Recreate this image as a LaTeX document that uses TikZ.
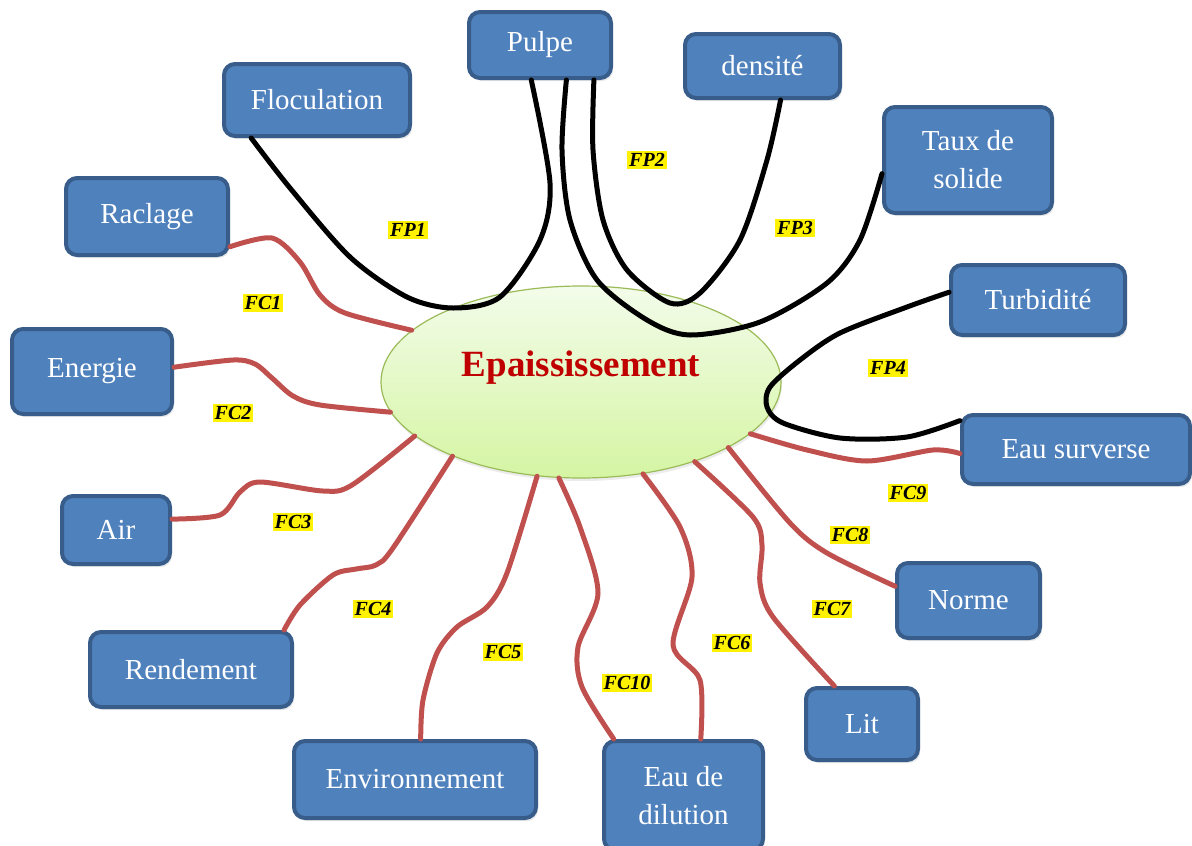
\documentclass[tikz,border=0pt]{standalone}
\usepackage{fontspec}
\setmainfont{Liberation Serif}
\usetikzlibrary{shapes.geometric,shadows}
\definecolor{boxfill}{HTML}{4F81BD}
\definecolor{boxedge}{HTML}{385D8A}
\definecolor{fcred}{HTML}{C0504D}
\definecolor{titlered}{HTML}{C00000}
\definecolor{ellfilltop}{HTML}{F3FCEA}
\definecolor{ellfillbot}{HTML}{D5F5A3}
\definecolor{elledge}{HTML}{9BBB59}
\begin{document}
\begin{tikzpicture}[x=1pt,y=-1pt,
  critbox/.style={draw=boxedge, line width=4pt, fill=boxfill, rounded corners=11pt,
    text=white, font=\fontsize{29}{38}\selectfont, align=center, inner sep=0pt,
    drop shadow={opacity=0.18, shadow xshift=2pt, shadow yshift=-3pt}},
  fnlabel/.style={fill=yellow, text=black, inner sep=2pt,
    font=\fontsize{20}{22}\selectfont\bfseries\itshape},
  fcline/.style={draw=fcred, line width=5pt, line cap=round},
  fpline/.style={draw=black, line width=5pt, line cap=round}]
\useasboundingbox (0,0) rectangle (1192,846);

% central function
\node (ell) [ellipse, draw=elledge, line width=1.2pt, top color=ellfilltop, bottom color=ellfillbot,
  minimum width=400pt, minimum height=192pt, inner sep=0pt,
  drop shadow={opacity=0.15, shadow xshift=1pt, shadow yshift=-3pt}] at (581,382) {};
\node (title) [text=titlered, font=\fontsize{37}{40}\selectfont\bfseries] at (581,368) {Epaississement};

% surrounding elements
\node (flocu) [critbox, minimum width=186pt, minimum height=72pt] at (317,100) {Floculation};
\node (pulpe) [critbox, minimum width=142pt, minimum height=66pt] at (540,45) {Pulpe};
\node (densite) [critbox, minimum width=155pt, minimum height=64pt] at (762.5,66) {densité};
\node (taux) [critbox, minimum width=168pt, minimum height=106pt] at (968,160) {Taux de\\solide};
\node (turbi) [critbox, minimum width=174pt, minimum height=70pt] at (1038,300) {Turbidité};
\node (surverse) [critbox, minimum width=228pt, minimum height=69pt] at (1076,449.5) {Eau surverse};
\node (norme) [critbox, minimum width=143pt, minimum height=75pt] at (968.5,600.5) {Norme};
\node (lit) [critbox, minimum width=112pt, minimum height=72pt] at (862,724) {Lit};
\node (dilution) [critbox, minimum width=159pt, minimum height=109pt] at (683.5,795.5) {Eau de\\dilution};
\node (environ) [critbox, minimum width=242pt, minimum height=77pt] at (415,779.5) {Environnement};
\node (rendement) [critbox, minimum width=202pt, minimum height=75pt] at (191,669.5) {Rendement};
\node (air) [critbox, minimum width=108pt, minimum height=68pt] at (116,530) {Air};
\node (energie) [critbox, minimum width=160pt, minimum height=85pt] at (92,371.5) {Energie};
\node (raclage) [critbox, minimum width=162pt, minimum height=77pt] at (147,216.5) {Raclage};

% constraint functions (red)
\draw[fcline] plot[smooth] coordinates {(raclage.-20) (272,238) (300,262) (320,295) (345,313) (ell.163)};
\draw[fcline] plot[smooth] coordinates {(energie.3) (233,360) (255,364) (272,378) (293,396) (320,405) (ell.189.5)};
\draw[fcline] plot[smooth] coordinates {(air.11.5) (220,515) (240,492) (260,482) (323,491) (352,485) (ell.198.4)};
\draw[fcline] plot[smooth] coordinates {(rendement.23) (300,605) (333,575) (356,569) (376,565) (393,548) (ell.210.8)};
\draw[fcline] plot[smooth] coordinates {(environ.82.8) (423,700) (437,653) (457,627) (487,607) (507,573) (ell.245.4)};
\draw[fcline] plot[smooth] coordinates {(ell.257.8) (580,527) (598,593) (578,647) (582,687) (dilution.141.2)};
\draw[fcline] plot[smooth] coordinates {(ell.304.5) (680,527) (692,577) (673,645) (700,680) (dilution.73.5)};
\draw[fcline] plot[smooth] coordinates {(ell.325) (753,517) (762,545) (760,583) (773,617) (lit.126.9)};
\draw[fcline] plot[smooth] coordinates {(ell.336.9) (790,523) (827,553) (norme.169.2)};
\draw[fcline] plot[smooth] coordinates {(ell.343.2) (807,450) (867,461) (933,450) (surverse.182.3)};

% principal functions (black)
\draw[fpline] plot[smooth] coordinates {(flocu.210) (290,188) (350,257) (407,297) (453,308) (500,297) (540,240) (550,183) (pulpe.256.9)};
\draw[fpline] plot[smooth] coordinates {(pulpe.327) (593,150) (603,220) (627,270) (670,303) (700,293) (740,240) (767,160) (densite.298.7)};
\draw[fpline] plot[smooth] coordinates {(pulpe.307.1) (562,150) (570,220) (597,280) (647,320) (690,335) (760,322) (827,283) (860,240) (taux.189)};
\draw[fpline] plot[smooth] coordinates {(turbi.175.5) (907,307) (840,333) (800,360) (770,387) (767,407) (783,423) (840,438) (907,437) (surverse.166.3)};

% function labels
\node (fp1) [fnlabel] at (408,230) {FP1};
\node (fp2) [fnlabel] at (647,160) {FP2};
\node (fp3) [fnlabel] at (795,228) {FP3};
\node (fp4) [fnlabel] at (888,368) {FP4};
\node (fc1) [fnlabel] at (263,303) {FC1};
\node (fc2) [fnlabel] at (233,413) {FC2};
\node (fc3) [fnlabel] at (293,522) {FC3};
\node (fc4) [fnlabel] at (373,609) {FC4};
\node (fc5) [fnlabel] at (503,652) {FC5};
\node (fc10) [fnlabel] at (627,683) {FC10};
\node (fc6) [fnlabel] at (732,643) {FC6};
\node (fc7) [fnlabel] at (832,609) {FC7};
\node (fc8) [fnlabel] at (850,535) {FC8};
\node (fc9) [fnlabel] at (908,493) {FC9};
\end{tikzpicture}
\end{document}
